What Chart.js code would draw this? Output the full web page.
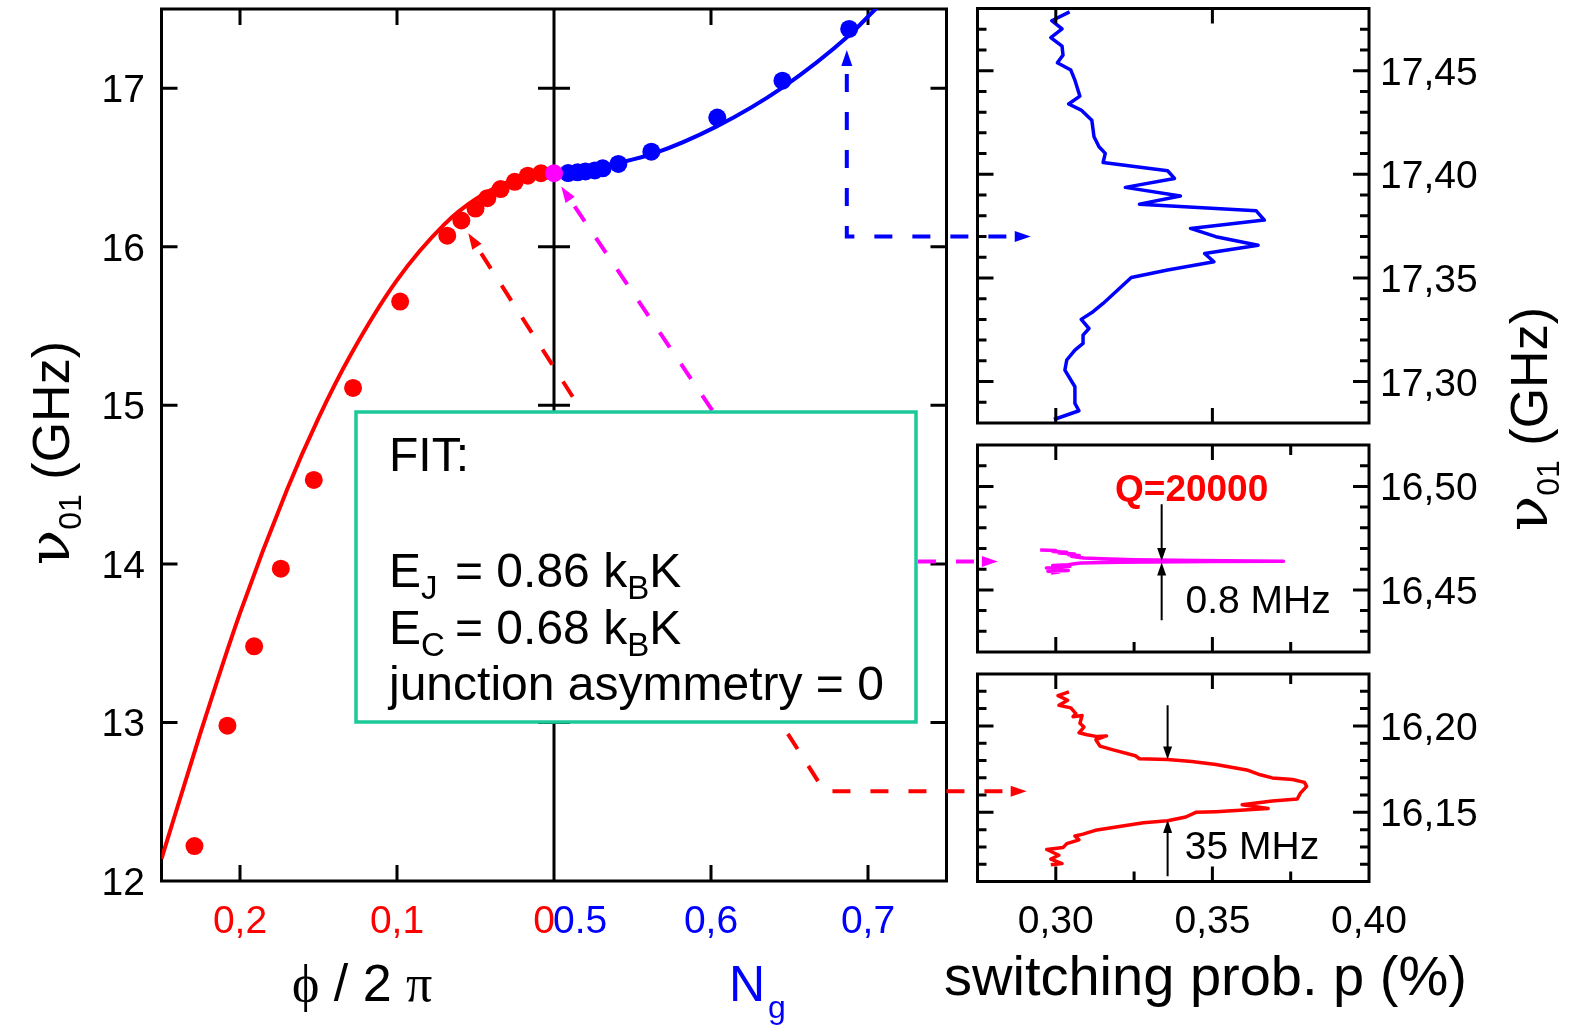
<!DOCTYPE html>
<html lang="en">
<head>
<meta charset="utf-8">
<title>Transition frequency and resonance lines</title>
<script src="https://cdn.jsdelivr.net/npm/chart.js@4.4.1/dist/chart.umd.min.js"></script>
<style>
  html, body { margin: 0; padding: 0; background: #ffffff; }
  #figure { position: relative; width: 1582px; height: 1030px; overflow: hidden; }
  #figure canvas { position: absolute; left: 0; top: 0; }
</style>
</head>
<body>
<div id="figure">
  <canvas id="highPanel" width="1582" height="1030"></canvas>
  <canvas id="midPanel" width="1582" height="1030"></canvas>
  <canvas id="lowPanel" width="1582" height="1030"></canvas>
  <canvas id="mainPanel" width="1582" height="1030"></canvas>
</div>
<script>
// ---- main panel: nu01 (GHz) against flux phi/2pi (red) and gate charge Ng (blue)
const phiPoints = [0.229, 0.208, 0.191, 0.174, 0.153, 0.128, 0.098, 0.068, 0.059, 0.050, 0.0425, 0.034, 0.025, 0.0167, 0.0083];
const nuPhiPoints = [12.22, 12.98, 13.48, 13.97, 14.53, 15.11, 15.655, 16.07, 16.166, 16.241, 16.307, 16.364, 16.41, 16.449, 16.464];
const ngPoints = [0.509, 0.515, 0.520, 0.526, 0.531, 0.541, 0.562, 0.604, 0.6455, 0.688];
const nuNgPoints = [16.465, 16.470, 16.475, 16.482, 16.495, 16.523, 16.600, 16.815, 17.048, 17.374];
const crossNg = [0.5];
const crossNu = [16.464];

// fit curves
const phiFit = [0.25, 0.225, 0.20, 0.17, 0.15, 0.13, 0.10, 0.07, 0.05, 0.025, 0];
const nuPhiFit = [12.14, 12.94, 13.69, 14.47, 14.92, 15.31, 15.79, 16.14, 16.30, 16.425, 16.466];
const ngFit = [0.5, 0.52, 0.5417, 0.5629, 0.6033, 0.6457, 0.6882, 0.7031, 0.706];
const nuNgFit = [16.466, 16.486, 16.531, 16.586, 16.758, 17.006, 17.336, 17.483, 17.51];

// ---- side panels: switching probability p (%) against nu01 (GHz)
const pHigh = [0.3044, 0.2987, 0.3020, 0.2984, 0.3020, 0.3023, 0.3005, 0.3048, 0.3061, 0.3077, 0.3041, 0.3081, 0.3115, 0.3122, 0.3138, 0.3158, 0.3151, 0.3357, 0.3379, 0.3222, 0.3398, 0.3267, 0.3640, 0.3666, 0.3430, 0.3511, 0.3646, 0.3475, 0.3505, 0.3357, 0.3241, 0.3151, 0.3119, 0.3081, 0.3106, 0.3087, 0.3087, 0.3061, 0.3035, 0.3029, 0.3061, 0.3061, 0.3074, 0.2994];
const nuHigh = [17.4784, 17.4741, 17.4702, 17.4660, 17.4618, 17.4575, 17.4538, 17.4503, 17.4454, 17.4377, 17.4339, 17.4310, 17.4261, 17.4181, 17.4133, 17.4101, 17.4057, 17.4017, 17.3980, 17.3937, 17.3895, 17.3856, 17.3824, 17.3779, 17.3739, 17.3699, 17.3658, 17.3618, 17.3578, 17.3538, 17.3502, 17.3377, 17.3337, 17.3300, 17.3256, 17.3224, 17.3184, 17.3152, 17.3104, 17.3055, 17.2975, 17.2895, 17.2859, 17.2817];

const pMid = [0.2950, 0.3000, 0.2990, 0.3035, 0.3010, 0.3060, 0.3040, 0.3075, 0.3050, 0.3070, 0.3090, 0.3150, 0.3250, 0.3450, 0.3727, 0.3500, 0.3200, 0.3080, 0.3060, 0.3040, 0.2990, 0.3045, 0.3020, 0.2970, 0.3030, 0.2990, 0.3040, 0.2975, 0.3010, 0.2985];
const nuMid = [16.4693, 16.4690, 16.4686, 16.4682, 16.4678, 16.4674, 16.4670, 16.4666, 16.4662, 16.4658, 16.4654, 16.4650, 16.4646, 16.4642, 16.4639, 16.4637, 16.4634, 16.4630, 16.4626, 16.4622, 16.4618, 16.4614, 16.4610, 16.4606, 16.4602, 16.4598, 16.4594, 16.4590, 16.4586, 16.4582];

const pLow = [0.3042, 0.3007, 0.3038, 0.3010, 0.3048, 0.3064, 0.3055, 0.3084, 0.3077, 0.3090, 0.3074, 0.3100, 0.3132, 0.3162, 0.3128, 0.3141, 0.3183, 0.3254, 0.3267, 0.3357, 0.3434, 0.3511, 0.3614, 0.3653, 0.3691, 0.3756, 0.3794, 0.3801, 0.3781, 0.3771, 0.3691, 0.3595, 0.3678, 0.3601, 0.3511, 0.3447, 0.3415, 0.3357, 0.3280, 0.3203, 0.3126, 0.3087, 0.3061, 0.3074, 0.3035, 0.3023, 0.2971, 0.3010, 0.2984, 0.3020, 0.2984];
const nuLow = [16.2197, 16.2175, 16.2148, 16.2119, 16.2104, 16.2071, 16.2053, 16.2060, 16.2015, 16.1993, 16.1960, 16.1949, 16.1938, 16.1942, 16.1920, 16.1883, 16.1861, 16.1827, 16.1810, 16.1805, 16.1794, 16.1777, 16.1743, 16.1717, 16.1699, 16.1690, 16.1673, 16.1650, 16.1611, 16.1577, 16.1566, 16.1544, 16.1522, 16.1513, 16.1504, 16.1500, 16.1473, 16.1451, 16.1440, 16.1418, 16.1396, 16.1374, 16.1363, 16.1341, 16.1319, 16.1296, 16.1285, 16.1252, 16.1230, 16.1204, 16.1197];

// linewidths marked in the two lower side panels (GHz)
const midLineWidth = 0.0008;
const lowLineWidth = 0.035;

// ---- ticks
const nuTicks = [12, 13, 14, 15, 16, 17];
const phiTicks = [0.2, 0.1, 0];
const phiTickLabels = ['0,2', '0,1', '0'];
const ngTicks = [0.5, 0.6, 0.7];
const ngTickLabels = ['0.5', '0,6', '0,7'];
const pTicks = [0.30, 0.35, 0.40];
const pTickLabels = ['0,30', '0,35', '0,40'];
const highTicks = [17.30, 17.35, 17.40, 17.45];
const highTickLabels = ['17,30', '17,35', '17,40', '17,45'];
const midTicks = [16.45, 16.50];
const midTickLabels = ['16,45', '16,50'];
const lowTicks = [16.15, 16.20];
const lowTickLabels = ['16,15', '16,20'];

// ---- look
const RED = '#ff0000', BLUE = '#0000ff', MAGENTA = '#ff00ff', TEAL = '#1cc99a', INK = '#000000';
const SANS = '"Liberation Sans", Arial, sans-serif';
const SERIF = '"Liberation Serif", "DejaVu Serif", "Times New Roman", serif';
const NU_FONT = '"DejaVu Serif", serif';
const TICK_FONT = '39px ' + SANS;
const PAGE_W = 1582, PAGE_H = 1030;

const MAIN_BOX = { left: 161.5, top: 9, right: 946.5, bottom: 881 };
const HIGH_BOX = { left: 977.5, top: 8.5, right: 1369, bottom: 423 };
const MID_BOX = { left: 977.5, top: 445, right: 1369, bottom: 652 };
const LOW_BOX = { left: 977.5, top: 674, right: 1369, bottom: 881.5 };
const FIT_BOX = { left: 356, top: 412, right: 916, bottom: 722 };

// dashed guides: arrow tip on the main panel, elbow on the main panel, arrow tip on a side panel
const guides = [
  { color: RED, tip: ['xPhi', 0.0546, 16.086], elbow: ['xNg', 0.6723, 12.566], panel: 'low', endP: 0.2907 },
  { color: MAGENTA, tip: ['xNg', 0.5046, 16.38], elbow: ['xNg', 0.6658, 14.015], panel: 'mid', endP: 0.2815 },
  { color: BLUE, tip: ['xNg', 0.6865, 17.241], elbow: ['xNg', 0.6865, 16.065], panel: 'high', endP: 0.2920 },
];

function pts(xs, ys) {
  return xs.map((x, i) => ({ x, y: ys[i] }));
}

function padFor(b) {
  return { left: b.left, top: b.top, right: PAGE_W - b.right, bottom: PAGE_H - b.bottom };
}

function runs(ctx, x, y, parts) {
  for (const p of parts) {
    ctx.font = p.font;
    ctx.fillStyle = p.color || INK;
    x += p.dx || 0;
    ctx.fillText(p.text, x, y + (p.dy || 0));
    x += ctx.measureText(p.text).width;
  }
  return x;
}

function runsWidth(ctx, parts) {
  let w = 0;
  for (const p of parts) {
    ctx.font = p.font;
    w += ctx.measureText(p.text).width + (p.dx || 0);
  }
  return w;
}

function arrowHead(ctx, tx, ty, fx, fy, len, half) {
  const a = Math.atan2(ty - fy, tx - fx);
  ctx.save();
  ctx.translate(tx, ty);
  ctx.rotate(a);
  ctx.beginPath();
  ctx.moveTo(0, 0);
  ctx.lineTo(-len, -half);
  ctx.lineTo(-len, half);
  ctx.closePath();
  ctx.fill();
  ctx.restore();
}

// nu01 (GHz), written bottom to top
function verticalTitle(ctx, baseX, centerY) {
  const parts = [
    { text: 'ν', font: '58px ' + NU_FONT },
    { text: '01', font: '32px ' + SANS, dy: 12 },
    { text: ' (GHz)', font: '52px ' + SANS },
  ];
  const w = runsWidth(ctx, parts);
  ctx.save();
  ctx.translate(baseX, centerY);
  ctx.rotate(-Math.PI / 2);
  ctx.textAlign = 'left';
  ctx.textBaseline = 'alphabetic';
  runs(ctx, -w / 2, 0, parts);
  ctx.restore();
}

const baseOptions = (box) => ({
  responsive: false,
  animation: false,
  devicePixelRatio: 1,
  events: [],
  layout: { padding: padFor(box) },
  plugins: { legend: { display: false }, tooltip: { enabled: false }, title: { display: false } },
});

// ---- side panels
function sideFrame(chart, cfg) {
  const { ctx, chartArea: a } = chart;
  const { x, y } = chart.scales;
  ctx.save();
  ctx.strokeStyle = INK;
  ctx.lineWidth = 3;
  ctx.strokeRect(a.left, a.top, a.right - a.left, a.bottom - a.top);
  ctx.beginPath();
  const lo = Math.ceil(y.min * 100 - 1e-6), hi = Math.floor(y.max * 100 + 1e-6);
  for (let k = lo; k <= hi; k++) {
    const v = k / 100;
    if (v <= y.min + 1e-9 || v >= y.max - 1e-9) continue;
    const py = y.getPixelForValue(v);
    const len = k % 5 === 0 ? 16 : 9;
    ctx.moveTo(a.left, py); ctx.lineTo(a.left + len, py);
    ctx.moveTo(a.right, py); ctx.lineTo(a.right - len, py);
  }
  for (const v of pTicks) {
    if (v >= x.max - 1e-9) continue;
    const px = x.getPixelForValue(v);
    ctx.moveTo(px, a.top); ctx.lineTo(px, a.top + 15);
    ctx.moveTo(px, a.bottom); ctx.lineTo(px, a.bottom - 15);
  }
  for (const v of cfg.minorTop) {
    const px = x.getPixelForValue(v);
    ctx.moveTo(px, a.top); ctx.lineTo(px, a.top + 10);
  }
  for (const v of cfg.minorBottom) {
    const px = x.getPixelForValue(v);
    ctx.moveTo(px, a.bottom); ctx.lineTo(px, a.bottom - 10);
  }
  ctx.stroke();

  ctx.font = TICK_FONT;
  ctx.fillStyle = INK;
  ctx.textAlign = 'left';
  ctx.textBaseline = 'alphabetic';
  cfg.ticks.forEach((v, i) => ctx.fillText(cfg.labels[i], a.right + 11, y.getPixelForValue(v) + 14));
  ctx.restore();
}

// double arrow pointing at a line from above and below, tips one linewidth apart
function widthMarker(chart, p, center, width, tails) {
  const { ctx } = chart;
  const { x, y } = chart.scales;
  const px = x.getPixelForValue(p);
  const tipTop = y.getPixelForValue(center + width / 2);
  const tipBot = y.getPixelForValue(center - width / 2);
  const tailTop = y.getPixelForValue(tails[0]);
  const tailBot = y.getPixelForValue(tails[1]);
  ctx.save();
  ctx.strokeStyle = INK;
  ctx.fillStyle = INK;
  ctx.lineWidth = 2;
  ctx.beginPath();
  ctx.moveTo(px, tailTop); ctx.lineTo(px, tipTop - 8);
  ctx.moveTo(px, tailBot); ctx.lineTo(px, tipBot + 8);
  ctx.stroke();
  arrowHead(ctx, px, tipTop, px, tailTop, 13, 4.5);
  arrowHead(ctx, px, tipBot, px, tailBot, 13, 4.5);
  ctx.restore();
}

function sidePanel(id, box, xs, ys, color, range, cfg, extra) {
  return new Chart(document.getElementById(id), {
    type: 'scatter',
    data: {
      datasets: [{
        data: pts(xs, ys),
        showLine: true,
        borderColor: color,
        borderWidth: 3.5,
        borderJoinStyle: 'round',
        pointRadius: 0,
        tension: 0,
      }],
    },
    options: {
      ...baseOptions(box),
      scales: {
        x: { type: 'linear', display: false, min: 0.275, max: 0.40 },
        y: { type: 'linear', display: false, min: range[0], max: range[1] },
      },
    },
    plugins: [{
      id: 'sideFrame',
      afterDatasetsDraw(chart) {
        sideFrame(chart, cfg);
        if (extra) extra(chart);
      },
    }],
  });
}

const panels = {};

panels.high = sidePanel('highPanel', HIGH_BOX, pHigh, nuHigh, BLUE, [17.28, 17.48],
  { ticks: highTicks, labels: highTickLabels, minorTop: [], minorBottom: [] });

panels.mid = sidePanel('midPanel', MID_BOX, pMid, nuMid, MAGENTA, [16.42, 16.52],
  { ticks: midTicks, labels: midTickLabels, minorTop: [0.375], minorBottom: [0.325, 0.375] },
  (chart) => {
    const { ctx } = chart;
    const { x, y } = chart.scales;
    widthMarker(chart, 0.3338, 16.4636, midLineWidth, [16.4914, 16.4353]);
    ctx.save();
    ctx.textAlign = 'left';
    ctx.textBaseline = 'alphabetic';
    ctx.fillStyle = RED;
    ctx.font = 'bold 37px ' + SANS;
    ctx.fillText('Q=20000', x.getPixelForValue(0.3189), y.getPixelForValue(16.493));
    ctx.fillStyle = INK;
    ctx.font = '39px ' + SANS;
    ctx.fillText('0.8 MHz', x.getPixelForValue(0.3414), y.getPixelForValue(16.4388));
    ctx.restore();
  });

panels.low = sidePanel('lowPanel', LOW_BOX, pLow, nuLow, RED, [16.11, 16.23],
  { ticks: lowTicks, labels: lowTickLabels, minorTop: [0.375], minorBottom: [0.325, 0.375] },
  (chart) => {
    const { ctx } = chart;
    const { x, y } = chart.scales;
    widthMarker(chart, 0.3357, 16.163, lowLineWidth, [16.2119, 16.1131]);
    ctx.save();
    ctx.textAlign = 'left';
    ctx.textBaseline = 'alphabetic';
    ctx.fillStyle = INK;
    ctx.font = '39px ' + SANS;
    ctx.fillText('35 MHz', x.getPixelForValue(0.3412), y.getPixelForValue(16.123));

    // shared p axis labels under the lowest panel
    ctx.font = TICK_FONT;
    ctx.textAlign = 'center';
    pTicks.forEach((v, i) => ctx.fillText(pTickLabels[i], x.getPixelForValue(v), 933));
    ctx.textAlign = 'left';
    ctx.font = '56px ' + SANS;
    ctx.fillText('switching prob. p (%)', 944, 995);
    ctx.restore();

    verticalTitle(ctx, 1547, 419);
  });

// ---- main panel decorations
function drawMainFrame(chart) {
  const { ctx, chartArea: a } = chart;
  const { y, xPhi, xNg } = chart.scales;
  const mid = xPhi.getPixelForValue(0);
  const T = 16;
  ctx.save();
  ctx.strokeStyle = INK;
  ctx.lineWidth = 3;
  ctx.strokeRect(a.left, a.top, a.right - a.left, a.bottom - a.top);
  ctx.beginPath();
  ctx.moveTo(mid, a.top); ctx.lineTo(mid, a.bottom);
  for (const v of nuTicks) {
    if (v <= y.min) continue;
    const py = y.getPixelForValue(v);
    ctx.moveTo(a.left, py); ctx.lineTo(a.left + T, py);
    ctx.moveTo(a.right, py); ctx.lineTo(a.right - T, py);
    ctx.moveTo(mid - T, py); ctx.lineTo(mid + T, py);
  }
  const xTicks = [
    ...phiTicks.filter((v) => v > 0).map((v) => xPhi.getPixelForValue(v)),
    ...ngTicks.filter((v) => v > 0.5).map((v) => xNg.getPixelForValue(v)),
  ];
  for (const px of xTicks) {
    ctx.moveTo(px, a.top); ctx.lineTo(px, a.top + T);
    ctx.moveTo(px, a.bottom); ctx.lineTo(px, a.bottom - T);
  }
  ctx.stroke();
  ctx.restore();
}

function drawGuides(chart) {
  const { ctx, scales } = chart;
  const HEAD = 16;
  for (const g of guides) {
    const tip = { x: scales[g.tip[0]].getPixelForValue(g.tip[1]), y: scales.y.getPixelForValue(g.tip[2]) };
    const elbow = { x: scales[g.elbow[0]].getPixelForValue(g.elbow[1]), y: scales.y.getPixelForValue(g.elbow[2]) };
    const end = { x: panels[g.panel].scales.x.getPixelForValue(g.endP), y: elbow.y };
    const d1 = Math.hypot(elbow.x - tip.x, elbow.y - tip.y);
    const d2 = Math.hypot(end.x - elbow.x, end.y - elbow.y);
    const s = { x: tip.x + (elbow.x - tip.x) / d1 * HEAD, y: tip.y + (elbow.y - tip.y) / d1 * HEAD };
    const e = { x: end.x - (end.x - elbow.x) / d2 * HEAD, y: end.y - (end.y - elbow.y) / d2 * HEAD };
    ctx.save();
    ctx.strokeStyle = g.color;
    ctx.fillStyle = g.color;
    ctx.lineWidth = 4;
    ctx.setLineDash([18, 20]);
    ctx.lineDashOffset = -8;
    ctx.beginPath();
    ctx.moveTo(s.x, s.y);
    ctx.lineTo(elbow.x, elbow.y);
    ctx.lineTo(e.x, e.y);
    ctx.stroke();
    ctx.setLineDash([]);
    arrowHead(ctx, tip.x, tip.y, elbow.x, elbow.y, HEAD, 5.5);
    arrowHead(ctx, end.x, end.y, elbow.x, elbow.y, HEAD, 5.5);
    ctx.restore();
  }
}

function drawFitBox(ctx) {
  const b = FIT_BOX;
  ctx.save();
  ctx.fillStyle = '#ffffff';
  ctx.fillRect(b.left, b.top, b.right - b.left, b.bottom - b.top);
  ctx.strokeStyle = TEAL;
  ctx.lineWidth = 3.5;
  ctx.strokeRect(b.left, b.top, b.right - b.left, b.bottom - b.top);
  ctx.textAlign = 'left';
  ctx.textBaseline = 'alphabetic';
  const big = '48px ' + SANS, sub = '33px ' + SANS;
  const x0 = 389, xEq = 455;
  runs(ctx, x0, 471, [{ text: 'FIT:', font: big }]);
  runs(ctx, x0, 587, [{ text: 'E', font: big }, { text: 'J', font: sub, dy: 12 }]);
  runs(ctx, xEq, 587, [{ text: '= 0.86 k', font: big }, { text: 'B', font: sub, dy: 12 }, { text: 'K', font: big }]);
  runs(ctx, x0, 644, [{ text: 'E', font: big }, { text: 'C', font: sub, dy: 12 }]);
  runs(ctx, xEq, 644, [{ text: '= 0.68 k', font: big }, { text: 'B', font: sub, dy: 12 }, { text: 'K', font: big }]);
  runs(ctx, x0, 700, [{ text: 'junction asymmetry = 0', font: big }]);
  ctx.restore();
}

function drawMainLabels(chart) {
  const { ctx } = chart;
  const { y, xPhi, xNg } = chart.scales;
  const mid = xPhi.getPixelForValue(0);
  ctx.save();
  ctx.font = TICK_FONT;
  ctx.textBaseline = 'alphabetic';
  ctx.fillStyle = INK;
  ctx.textAlign = 'right';
  for (const v of nuTicks) ctx.fillText(String(v), 145, y.getPixelForValue(v) + 14);

  ctx.fillStyle = RED;
  phiTicks.forEach((v, i) => {
    ctx.textAlign = v === 0 ? 'right' : 'center';
    ctx.fillText(phiTickLabels[i], v === 0 ? mid + 1 : xPhi.getPixelForValue(v), 933);
  });
  ctx.fillStyle = BLUE;
  ngTicks.forEach((v, i) => {
    ctx.textAlign = v === 0.5 ? 'left' : 'center';
    ctx.fillText(ngTickLabels[i], v === 0.5 ? mid - 1 : xNg.getPixelForValue(v), 933);
  });

  ctx.textAlign = 'left';
  runs(ctx, 292, 1001, [
    { text: 'ϕ', font: '52px ' + SERIF },
    { text: ' / 2 ', font: '52px ' + SANS },
    { text: 'π', font: '52px ' + SERIF },
  ]);
  runs(ctx, 729, 1001, [
    { text: 'N', font: '50px ' + SANS, color: BLUE },
    { text: 'g', font: '32px ' + SANS, color: BLUE, dy: 17, dx: 3 },
  ]);
  ctx.restore();

  verticalTitle(ctx, 69, 453);
}

new Chart(document.getElementById('mainPanel'), {
  type: 'scatter',
  data: {
    datasets: [
      { data: pts(crossNg, crossNu), xAxisID: 'xNg', pointRadius: 9, pointBackgroundColor: MAGENTA, pointBorderWidth: 0, showLine: false },
      { data: pts(phiPoints, nuPhiPoints), xAxisID: 'xPhi', pointRadius: 9, pointBackgroundColor: RED, pointBorderWidth: 0, showLine: false },
      { data: pts(ngPoints, nuNgPoints), xAxisID: 'xNg', pointRadius: 9, pointBackgroundColor: BLUE, pointBorderWidth: 0, showLine: false },
      { data: pts(phiFit, nuPhiFit), xAxisID: 'xPhi', showLine: true, pointRadius: 0, borderColor: RED, borderWidth: 4, cubicInterpolationMode: 'monotone', tension: 0.4 },
      { data: pts(ngFit, nuNgFit), xAxisID: 'xNg', showLine: true, pointRadius: 0, borderColor: BLUE, borderWidth: 4, cubicInterpolationMode: 'monotone', tension: 0.4 },
    ],
  },
  options: {
    ...baseOptions(MAIN_BOX),
    scales: {
      // phi/2pi runs right to left on the left half, Ng left to right on the right half
      xPhi: { type: 'linear', axis: 'x', display: false, min: -0.25, max: 0.25, reverse: true },
      xNg: { type: 'linear', axis: 'x', display: false, min: 0.25, max: 0.75 },
      y: { type: 'linear', display: false, min: 12, max: 17.5 },
    },
  },
  plugins: [{
    id: 'mainDecor',
    beforeDatasetsDraw(chart) {
      drawMainFrame(chart);
    },
    afterDatasetsDraw(chart) {
      drawGuides(chart);
      drawFitBox(chart.ctx);
      drawMainLabels(chart);
    },
  }],
});
</script>
</body>
</html>
